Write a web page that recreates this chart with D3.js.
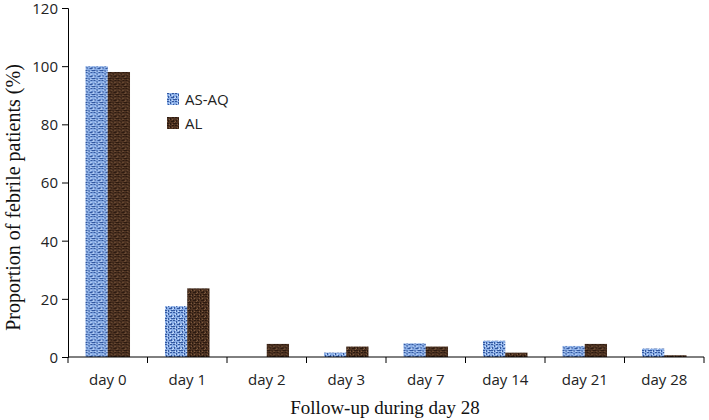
<!DOCTYPE html>
<html>
<head>
<meta charset="utf-8">
<script src="https://cdn.jsdelivr.net/npm/d3@7"></script>
<style>
  body { margin: 0; background: #fff; }
  .tick text { font-family: "Open Sans", "Liberation Sans", sans-serif; font-size: 15px; fill: #222; }
  .title { font-family: "Liberation Serif", "DejaVu Serif", serif; fill: #111; }
  .legend text { font-family: "Open Sans", "Liberation Sans", sans-serif; font-size: 15px; fill: #222; }
</style>
</head>
<body>
<div id="chart"></div>
<script>
// chart data
const days = ['day 0', 'day 1', 'day 2', 'day 3', 'day 7', 'day 14', 'day 21', 'day 28'];
const series = ['AS-AQ', 'AL'];
const asaq = [100, 17.5, 0, 1.5, 4.7, 5.6, 3.8, 2.9];
const al = [98, 23.6, 4.5, 3.6, 3.6, 1.5, 4.5, 0.6];
const yTicks = [0, 20, 40, 60, 80, 100, 120];

window.onload = init;

function init()
{
    const width = 709;
    const height = 420;
    const margin = {top: 8, right: 5, bottom: 63, left: 68};

    const svg = d3.select('#chart').append('svg').attr('width', width).attr('height', height);

    // textured fills, approximating the picture fills of the original
    const defs = svg.append('defs');
    function texture(id, base, dark, light) {
        const p = defs.append('pattern').attr('id', id)
            .attr('patternUnits', 'userSpaceOnUse').attr('width', 8).attr('height', 8);
        p.append('rect').attr('width', 8).attr('height', 8).attr('fill', base);
        const cells = [[0,0,2,1],[3,1,1,2],[5,0,2,1],[1,3,1,2],[4,4,2,1],[6,3,1,2],[0,6,2,1],[3,6,1,2],[6,6,2,1]];
        p.selectAll('rect.d').data(cells).enter().append('rect').attr('class', 'd')
            .attr('x', d => d[0]).attr('y', d => d[1]).attr('width', d => d[2]).attr('height', d => d[3])
            .attr('fill', dark);
        const hi = [[2,2],[5,2],[0,4],[7,5],[2,7],[5,7]];
        p.selectAll('rect.l').data(hi).enter().append('rect').attr('class', 'l')
            .attr('x', d => d[0]).attr('y', d => d[1]).attr('width', 1).attr('height', 1)
            .attr('fill', light);
    }
    texture('pAsaq', '#8aaee6', '#34589f', '#cfe0fb');
    texture('pAl', '#4e3322', '#2c1a10', '#7d5a3e');
    const fills = {'AS-AQ': 'url(#pAsaq)', 'AL': 'url(#pAl)'};

    const x = d3.scaleBand().domain(days).range([margin.left, width - margin.right]).paddingInner(0.44).paddingOuter(0.22);
    const x1 = d3.scaleBand().domain(series).range([0, x.bandwidth()]);
    const y = d3.scaleLinear().domain([0, 120]).range([height - margin.bottom, margin.top]);

    const rows = days.map((d, i) => ({day: d, values: [{s: 'AS-AQ', v: asaq[i]}, {s: 'AL', v: al[i]}]}));

    const groups = svg.append('g').selectAll('g').data(rows).enter().append('g')
        .attr('transform', d => 'translate(' + x(d.day) + ',0)');
    groups.selectAll('rect').data(d => d.values).enter().append('rect')
        .attr('x', d => x1(d.s))
        .attr('y', d => y(d.v))
        .attr('width', x1.bandwidth())
        .attr('height', d => y(0) - y(d.v))
        .attr('fill', d => fills[d.s]);

    // x axis with ticks between categories
    const xAxis = svg.append('g').attr('transform', 'translate(0,' + y(0) + ')');
    xAxis.append('line').attr('x1', margin.left).attr('x2', width - margin.right).attr('stroke', '#000');
    const bounds = d3.range(days.length + 1).map(i => margin.left + i * (width - margin.left - margin.right) / days.length);
    xAxis.selectAll('line.t').data(bounds).enter().append('line').attr('class', 't')
        .attr('x1', d => d).attr('x2', d => d).attr('y1', 0).attr('y2', 6).attr('stroke', '#000');
    xAxis.selectAll('text').data(days).enter().append('text')
        .attr('x', d => x(d) + x.bandwidth() / 2).attr('y', 28)
        .attr('text-anchor', 'middle')
        .style('font-family', '"Open Sans", "Liberation Sans", sans-serif').style('font-size', '15px').style('fill', '#222')
        .text(d => d);

    const yAxis = svg.append('g').attr('transform', 'translate(' + margin.left + ',0)')
        .call(d3.axisLeft(y).tickValues(yTicks).tickSize(6).tickPadding(4));
    yAxis.select('.domain').attr('stroke', '#000');
    yAxis.selectAll('.tick text').attr('dy', '0.36em');

    svg.append('text').attr('class', 'title')
        .attr('transform', 'translate(20,' + (y(60) + 15) + ') rotate(-90)')
        .attr('text-anchor', 'middle')
        .style('font-size', '20px')
        .text('Proportion of febrile patients (%)');
    svg.append('text').attr('class', 'title')
        .attr('x', 385).attr('y', 414)
        .attr('text-anchor', 'middle')
        .style('font-size', '19px')
        .text('Follow-up during day 28');

    const legend = svg.append('g').attr('class', 'legend').selectAll('g').data(series).enter().append('g')
        .attr('transform', (d, i) => 'translate(167,' + (93 + i * 24) + ')');
    legend.append('rect').attr('width', 12).attr('height', 12).attr('fill', d => fills[d]);
    legend.append('text').attr('x', 18).attr('y', 11.5).text(d => d);
}
</script>
</body>
</html>
